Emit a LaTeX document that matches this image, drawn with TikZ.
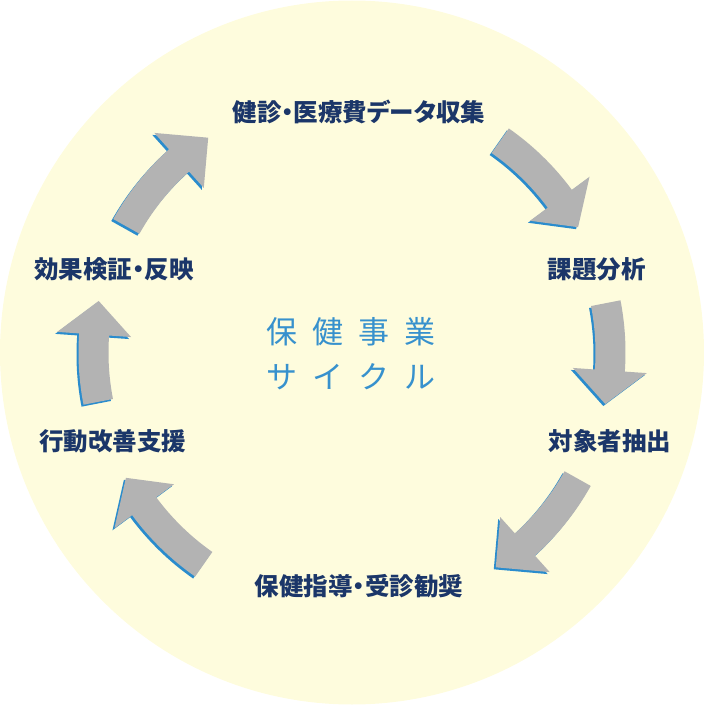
\documentclass[tikz,border=0pt]{standalone}
\usepackage{fontspec}
\usepackage{xcolor}
\usepackage{tikz}
\newfontfamily\jplabel{Noto Sans CJK JP}[RawFeature=+palt]
\newfontfamily\jpcenter{Noto Sans CJK JP}

\definecolor{circlefill}{RGB}{254,252,221}
\definecolor{arrowgray}{RGB}{179,179,179}
\definecolor{arrowblue}{RGB}{42,140,205}
\definecolor{labelnavy}{RGB}{27,54,105}
\definecolor{cycleblue}{RGB}{55,145,205}

% thick curved arrow on the ring: tail angle, head base angle, tip angle
\newcommand{\cyclearrow}[3]{%
  \foreach \dx/\col in {-2/arrowblue, 0/arrowgray}
    \fill[\col, shift={(\dx,\dx)}]
      (#1:273.5) arc[start angle=#1, end angle=#2, radius=273.5]
      -- (#2:295.5) -- (#3:258.5) -- (#2:221.5) -- (#2:243.5)
      arc[start angle=#2, end angle=#1, radius=243.5] -- cycle;
}

\begin{document}
\begin{tikzpicture}[
  x=1pt, y=1pt,
  % Text styles
  step label/.style={
    font=\jplabel\bfseries\fontsize{24.5}{28}\selectfont,
    text=labelnavy, inner sep=0pt
  },
  title/.style={
    font=\jpcenter\fontsize{31}{36}\selectfont,
    text=cycleblue, inner sep=0pt
  }
]
\useasboundingbox (-352,-352.5) rectangle (352,352.5);

% ── Background disc ──────────────────────────────────────────────────────────
\fill[circlefill] (0,0) circle[radius=352];

% ── Cycle arrows ─────────────────────────────────────────────────────────────
\cyclearrow{55}{36.5}{29}
\cyclearrow{11}{-4}{-11.5}
\cyclearrow{-29.2}{-48}{-56.2}
\cyclearrow{235}{216.5}{209}
\cyclearrow{191}{176}{168.5}
\cyclearrow{150.8}{132}{123.8}

% ── Steps ────────────────────────────────────────────────────────────────────
\node[step label] (collect) at (7,241)      {健診・医療費データ収集};
\node[step label] (analyse) at (245,83)     {課題分析};
\node[step label] (target)  at (258,-88.5)  {対象者抽出};
\node[step label] (guide)   at (7,-233.5)   {保健指導・受診勧奨};
\node[step label] (support) at (-239,-88.5) {行動改善支援};
\node[step label] (review)  at (-238,83)    {効果検証・反映};

% ── Centre title ─────────────────────────────────────────────────────────────
\node[title] (title1) at (-0.5,21)
  {保\hspace{15pt}健\hspace{15pt}事\hspace{15pt}業};
\node[title] (title2) at (-0.5,-24.5)
  {サ\hspace{15pt}イ\hspace{15pt}ク\hspace{15pt}ル};

\end{tikzpicture}
\end{document}
